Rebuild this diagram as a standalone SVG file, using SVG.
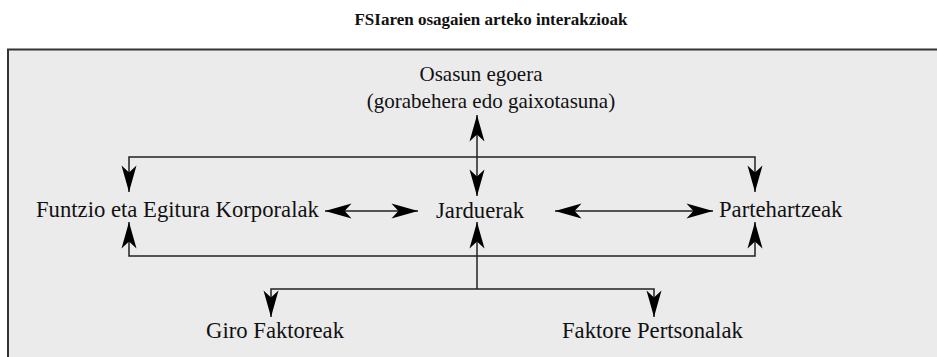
<svg xmlns="http://www.w3.org/2000/svg" width="937" height="357" viewBox="0 0 937 357">
<style>
text{font-family:"Liberation Serif","Times New Roman",serif;fill:#111}
.t{font-size:17px;font-weight:bold}
.n{font-size:22.7px}
.s{font-size:21px}
.c{fill:none;stroke:#222;stroke-width:1.5}
</style>
<defs>
<marker id="ah" markerUnits="userSpaceOnUse" markerWidth="30" markerHeight="20" viewBox="-24 -8 26 16" refX="0" refY="0" orient="auto-start-reverse">
<path d="M0,0 L-23,-6.5 L-17,0 L-23,6.5 Z" fill="#000"/>
</marker>
</defs>
<rect width="937" height="357" fill="#fff"/>
<text class="t" x="491" y="25" text-anchor="middle">FSIaren osagaien arteko interakzioak</text>
<rect x="8" y="49.5" width="940" height="320" fill="#ebebeb" stroke="#333" stroke-width="2"/>
<g id="osasun">
<text class="s" x="481" y="81" text-anchor="middle">Osasun egoera</text>
<text class="s" x="491" y="108" text-anchor="middle">(gorabehera edo gaixotasuna)</text>
</g>
<g id="funtzio"><text class="n" x="36" y="217">Funtzio eta Egitura Korporalak</text></g>
<g id="jarduerak"><text class="n" x="436" y="218">Jarduerak</text></g>
<g id="partehartzeak"><text class="n" x="719" y="217">Partehartzeak</text></g>
<g id="giro"><text class="n" x="206" y="338">Giro Faktoreak</text></g>
<g id="faktore"><text class="n" x="562" y="338">Faktore Pertsonalak</text></g>
<g id="connectors">
<path class="c" d="M477,115 V196" marker-start="url(#ah)" marker-end="url(#ah)"/>
<path class="c" d="M129,192 V157 H755 V192" marker-start="url(#ah)" marker-end="url(#ah)"/>
<path class="c" d="M129,222 V256 H755 V222" marker-start="url(#ah)" marker-end="url(#ah)"/>
<path class="c" d="M325,211 H418" marker-start="url(#ah)" marker-end="url(#ah)"/>
<path class="c" d="M555,211 H713" marker-start="url(#ah)" marker-end="url(#ah)"/>
<path class="c" d="M477,222 V289" marker-start="url(#ah)"/>
<path class="c" d="M271,317 V289 H654 V317" marker-start="url(#ah)" marker-end="url(#ah)"/>
</g>
</svg>
